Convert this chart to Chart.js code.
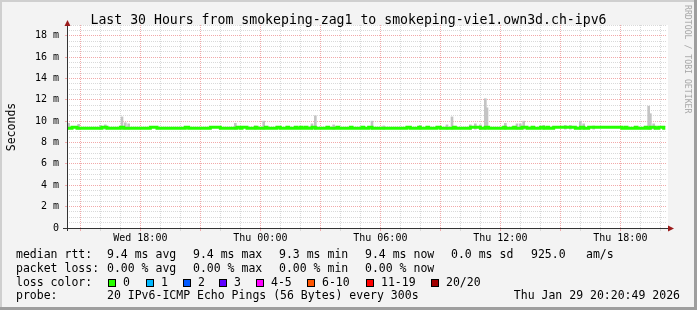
<!DOCTYPE html>
<html>
<head>
<meta charset="utf-8">
<script src="https://cdn.jsdelivr.net/npm/chart.js@4/dist/chart.umd.min.js"></script>
<style>
html,body{margin:0;padding:0;background:#fff;}
#wrap{position:relative;width:697px;height:310px;background:#f3f3f3;overflow:hidden;font-family:'DejaVu Sans Mono',monospace;color:#000;}
#wrap canvas{position:absolute;left:0;top:0;}
.edge{position:absolute;}
.t{position:absolute;white-space:pre;font-size:11.5px;line-height:14px;}
.box{position:absolute;width:6px;height:6px;border:1px solid #000;}
#title{position:absolute;left:0;top:12px;width:697px;text-align:center;font-size:13.2px;line-height:15px;white-space:pre;}
#ytitle{position:absolute;left:-29.5px;top:120px;width:80px;text-align:center;font-size:11.5px;line-height:14px;transform:rotate(-90deg);}
#credit{position:absolute;left:693px;top:5px;width:130px;font-size:8.2px;line-height:10px;color:#a6a6a6;white-space:pre;transform-origin:0 0;transform:rotate(90deg);}
</style>
</head>
<body>
<div id="wrap">
  <canvas id="c" width="697" height="310"></canvas>
  <div class="edge" style="left:0;top:0;width:697px;height:2px;background:#cfcfcf"></div>
  <div class="edge" style="left:0;top:0;width:2px;height:310px;background:#cfcfcf"></div>
  <div class="edge" style="left:0;top:307px;width:697px;height:3px;background:#9e9e9e"></div>
  <div class="edge" style="left:694px;top:0;width:3px;height:310px;background:#9e9e9e"></div>
  <div id="title">Last 30 Hours from smokeping-zag1 to smokeping-vie1.own3d.ch-ipv6</div>
  <div id="ytitle">Seconds</div>
  <div id="credit">RRDTOOL / TOBI OETIKER</div>

  <div class="t" style="left:16px;top:247px">median rtt:</div>
  <div class="t" style="left:107px;top:247px">9.4 ms avg</div>
  <div class="t" style="left:193px;top:247px">9.4 ms max</div>
  <div class="t" style="left:279px;top:247px">9.3 ms min</div>
  <div class="t" style="left:365px;top:247px">9.4 ms now</div>
  <div class="t" style="left:451px;top:247px">0.0 ms sd</div>
  <div class="t" style="left:531px;top:247px">925.0</div>
  <div class="t" style="left:586px;top:247px">am/s</div>

  <div class="t" style="left:16px;top:261px">packet loss:</div>
  <div class="t" style="left:107px;top:261px">0.00 % avg</div>
  <div class="t" style="left:193px;top:261px">0.00 % max</div>
  <div class="t" style="left:279px;top:261px">0.00 % min</div>
  <div class="t" style="left:365px;top:261px">0.00 % now</div>

  <div class="t" style="left:16px;top:274.5px">loss color:</div>
  <div id="lossrow"></div>

  <div class="t" style="left:16px;top:288px">probe:</div>
  <div class="t" style="left:107px;top:288px">20 IPv6-ICMP Echo Pings (56 Bytes) every 300s</div>
  <div class="t" style="left:480px;top:288px;width:200px;text-align:right">Thu Jan 29 20:20:49 2026</div>
</div>
<script>
// ---- data (x = minutes since Wed 14:20, y = milliseconds) ----
const tickMinutes = [40,100,160,220,280,340,400,460,520,580,640,700,760,820,880,940,1000,1060,1120,1180,1240,1300,1360,1420,1480,1540,1600,1660,1720,1780];
const majorTickMinutes = [40,220,400,580,760,940,1120,1300,1480,1660];
const labelMinutes = [220,580,940,1300,1660];
const tickLabels = ['Wed 18:00','Thu 00:00','Thu 06:00','Thu 12:00','Thu 18:00'];
const yTickValues = [0,0.5,1,1.5,2,2.5,3,3.5,4,4.5,5,5.5,6,6.5,7,7.5,8,8.5,9,9.5,10,10.5,11,11.5,12,12.5,13,13.5,14,14.5,15,15.5,16,16.5,17,17.5,18,18.5,19];
const yLabelValues = [0,2,4,6,8,10,12,14,16,18];

const medianTimes = [0,15,30,105,120,160,170,250,270,355,365,430,460,510,520,525,540,565,570,595,600,630,640,660,665,685,690,700,705,715,720,735,745,780,785,810,815,850,855,885,890,905,915,1020,1030,1055,1060,1080,1085,1110,1120,1160,1165,1210,1240,1255,1265,1310,1315,1340,1345,1365,1380,1395,1400,1420,1430,1440,1445,1460,1525,1540,1550,1565,1665,1675,1680,1705,1710,1735,1740,1750,1765,1775,1790,1795];
const medianValues = [9.34,9.44,9.34,9.44,9.34,9.44,9.34,9.44,9.34,9.44,9.34,9.44,9.34,9.44,9.34,9.44,9.34,9.44,9.34,9.44,9.34,9.44,9.34,9.44,9.34,9.44,9.34,9.44,9.34,9.44,9.34,9.44,9.34,9.44,9.34,9.44,9.34,9.44,9.34,9.44,9.34,9.44,9.34,9.44,9.34,9.44,9.34,9.44,9.34,9.44,9.34,9.44,9.34,9.44,9.34,9.44,9.34,9.44,9.34,9.44,9.34,9.44,9.34,9.44,9.34,9.44,9.34,9.44,9.34,9.44,9.34,9.44,9.34,9.44,9.34,9.44,9.34,9.44,9.34,9.44,9.34,9.44,9.34,9.44,9.34,9.34];

const smokeTimes = [5,35,100,115,165,175,185,505,565,590,735,745,800,915,950,1060,1140,1155,1210,1225,1240,1255,1260,1315,1350,1360,1370,1430,1495,1510,1540,1550,1580,1745,1750,1760];
const smokeLow  = [9.25,9.25,9.25,9.25,9.25,9.25,9.25,9.25,9.25,9.25,9.25,9.25,9.25,9.25,9.25,9.25,9.25,9.25,9.25,9.25,9.25,9.25,9.25,9.25,9.25,9.25,9.25,9.25,9.25,9.25,9.25,9.25,9.25,9.25,9.25,9.25];
const smokeHigh = [9.8,9.7,9.6,9.65,10.4,9.85,9.75,9.8,9.55,10.0,9.75,10.5,9.65,10.0,9.55,9.6,9.65,10.4,9.65,9.75,9.65,12.1,11.25,9.8,9.75,9.75,10.0,9.6,9.6,9.6,10.0,9.75,9.55,11.4,10.7,9.75];

const lossLabels = ['0','1','2','3','4-5','6-10','11-19','20/20'];
const lossColors = ['#26ff00','#00b8ff','#0059ff','#5e00ff','#ff00ff','#ff5500','#ff0000','#a10000'];

// ---- loss colour legend row ----
const boxX = [108,146,183,219,256,307,366,431];
const row = document.getElementById('lossrow');
lossLabels.forEach((lab, i) => {
  const b = document.createElement('div');
  b.className = 'box';
  b.style.left = boxX[i] + 'px';
  b.style.top = '279px';
  b.style.background = lossColors[i];
  row.appendChild(b);
  const t = document.createElement('div');
  t.className = 't';
  t.style.left = (boxX[i] + 15) + 'px';
  t.style.top = '274.5px';
  t.textContent = lab;
  row.appendChild(t);
});

// ---- chart ----
const MINOR = '#d9d9d9';
const MAJOR = '#f2a9a9';
const AXIS = '#333333';
const ARROW = '#9b1c1c';

const bgPlugin = {
  id: 'bg',
  beforeDraw(chart) {
    const a = chart.chartArea, ctx = chart.ctx;
    ctx.save();
    ctx.fillStyle = '#ffffff';
    ctx.fillRect(a.left, a.top, a.right - a.left + 1, a.bottom - a.top);
    ctx.restore();
  },
  afterDraw(chart) {
    const a = chart.chartArea, ctx = chart.ctx;
    ctx.save();
    ctx.strokeStyle = AXIS;
    ctx.lineWidth = 1;
    ctx.beginPath();
    ctx.moveTo(63, a.bottom + 0.5); ctx.lineTo(669, a.bottom + 0.5);
    ctx.moveTo(a.left + 0.5, a.top - 1); ctx.lineTo(a.left + 0.5, a.bottom + 3);
    ctx.stroke();
    ctx.fillStyle = ARROW;
    ctx.beginPath();
    ctx.moveTo(a.left + 0.5, a.top - 5); ctx.lineTo(a.left - 2.5, a.top + 1); ctx.lineTo(a.left + 3.5, a.top + 1);
    ctx.closePath(); ctx.fill();
    ctx.beginPath();
    ctx.moveTo(674, a.bottom + 0.5); ctx.lineTo(668, a.bottom - 2.5); ctx.lineTo(668, a.bottom + 3.5);
    ctx.closePath(); ctx.fill();
    ctx.restore();
  }
};

Chart.defaults.font.family = "'DejaVu Sans Mono', monospace";

new Chart(document.getElementById('c'), {
  type: 'line',
  data: {
    datasets: [
      {
        type: 'line',
        order: 0,
        data: medianTimes.map((t, i) => ({x: t, y: medianValues[i]})),
        borderColor: lossColors[0],
        borderWidth: 3,
        stepped: true,
        pointRadius: 0,
        fill: false
      },
      {
        type: 'bar',
        order: 1,
        data: smokeTimes.map((t, i) => ({x: t, y: [smokeLow[i], smokeHigh[i]]})),
        backgroundColor: '#c4c4c4',
        borderWidth: 0,
        barThickness: 2,
        grouped: false
      }
    ]
  },
  options: {
    responsive: false,
    animation: false,
    devicePixelRatio: 1,
    layout: {padding: {left: 0, right: 30, top: 25, bottom: 0}},
    plugins: {legend: {display: false}, tooltip: {enabled: false}, title: {display: false}},
    scales: {
      x: {
        type: 'linear',
        min: 0,
        max: 1800,
        offset: false,
        afterFit(s) { s.height = 82; },
        afterBuildTicks(s) { s.ticks = tickMinutes.map(v => ({value: v})); },
        border: {display: false, dash: [1, 1]},
        grid: {
          offset: false,
          color: c => majorTickMinutes.includes(c.tick && c.tick.value) ? MAJOR : MINOR,
          tickColor: c => majorTickMinutes.includes(c.tick && c.tick.value) ? MAJOR : MINOR,
          lineWidth: 1,
          drawTicks: true,
          tickLength: 3
        },
        ticks: {
          autoSkip: false,
          maxRotation: 0,
          padding: 1,
          color: '#000',
          font: {size: 10},
          callback: v => { const i = labelMinutes.indexOf(v); return i >= 0 ? tickLabels[i] : ''; }
        }
      },
      y: {
        type: 'linear',
        min: 0,
        max: 19,
        afterFit(s) { s.width = 67; },
        afterBuildTicks(s) { s.ticks = yTickValues.map(v => ({value: v})); },
        border: {display: false, dash: [1, 1]},
        grid: {
          color: c => yLabelValues.includes(c.tick && c.tick.value) ? MAJOR : MINOR,
          tickColor: c => yLabelValues.includes(c.tick && c.tick.value) ? MAJOR : 'rgba(0,0,0,0)',
          lineWidth: 1,
          drawTicks: true,
          tickLength: 2
        },
        ticks: {
          autoSkip: false,
          padding: 6,
          color: '#000',
          font: {size: 10},
          callback: v => yLabelValues.includes(v) ? (v === 0 ? '0' : v + ' m') : ''
        }
      }
    }
  },
  plugins: [bgPlugin]
});
</script>
</body>
</html>
